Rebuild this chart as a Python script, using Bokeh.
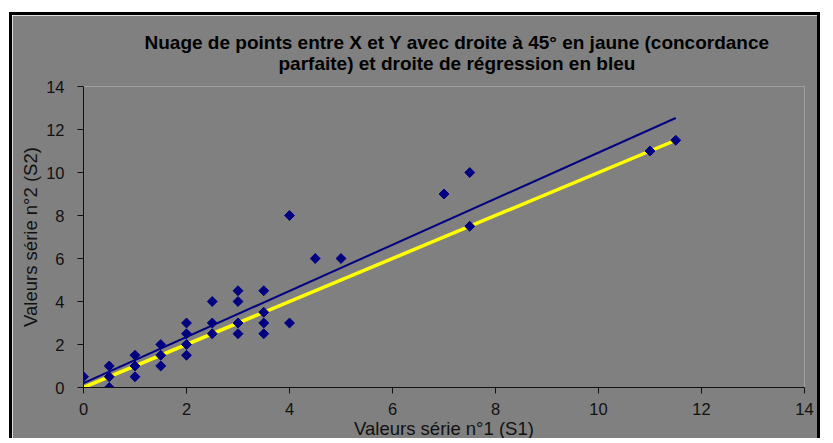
import numpy as np
from bokeh.plotting import figure
from bokeh.models import Range1d, Title, FixedTicker
from bokeh.embed import file_html
from bokeh.resources import INLINE

# Data
s1 = [0, 0.5, 0.5, 0.5, 1, 1, 1, 1.5, 1.5, 1.5, 2, 2, 2, 2, 2.5, 2.5, 2.5,
      3, 3, 3, 3, 3.5, 3.5, 3.5, 3.5, 4, 4, 4.5, 5, 7, 7.5, 7.5, 11, 11.5]
s2 = [0.5, 1, 0.5, 0, 1.5, 1, 0.5, 2, 1.5, 1, 3, 2.5, 2, 1.5, 4, 3, 2.5,
      4.5, 4, 3, 2.5, 4.5, 3.5, 3, 2.5, 8, 3, 6, 6, 9, 10, 7.5, 11, 11.5]
diag_x = [0, 11.5]
axis_ticks = [0, 2, 4, 6, 8, 10, 12, 14]
title_lines = ["Nuage de points entre X et Y avec droite à 45° en jaune (concordance",
               "parfaite) et droite de régression en bleu"]

slope, intercept = np.polyfit(s1, s2, 1)
reg_x = diag_x
reg_y = [intercept + slope * v for v in reg_x]

GRAY = "#808080"
NAVY = "#000080"
TXT = "#111111"
FONT = "Liberation Sans"

p = figure(width=811, height=426, output_backend="svg", toolbar_location=None,
           x_range=Range1d(0, 14), y_range=Range1d(0, 14),
           min_border_left=71, min_border_right=19, min_border_top=71, min_border_bottom=54)
p.styles = {"border-top": "3px solid black", "border-left": "3px solid black",
            "border-right": "3px solid black", "margin-left": "9px", "margin-top": "12px"}
p.background_fill_color = GRAY
p.border_fill_color = GRAY
p.outline_line_color = None
p.grid.visible = False

for ax in (p.xaxis[0], p.yaxis[0]):
    ax.ticker = FixedTicker(ticks=axis_ticks)
    ax.minor_tick_line_color = None
    ax.major_tick_in = 0
    ax.major_tick_out = 6
    ax.axis_line_color = "#111111"
    ax.major_tick_line_color = "#111111"
    ax.major_label_text_font = FONT
    ax.major_label_text_font_size = "16.5px"
    ax.major_label_text_color = TXT
    ax.axis_label_text_font = FONT
    ax.axis_label_text_font_size = "18.5px"
    ax.axis_label_text_font_style = "normal"
    ax.axis_label_text_color = TXT

p.xaxis.axis_label = "Valeurs série n°1 (S1)"
p.yaxis.axis_label = "Valeurs série n°2 (S2)"
p.xaxis.major_label_standoff = 9
p.yaxis.major_label_standoff = 13
p.xaxis.axis_label_standoff = 0
p.yaxis.axis_label_standoff = 2

p.line(diag_x, diag_x, line_color="#FFFF00", line_width=3.5)
p.line(reg_x, reg_y, line_color=NAVY, line_width=2)
p.scatter(s1, s2, marker="square", angle=np.pi / 4, size=7,
          fill_color=NAVY, line_color=NAVY)

# second line first (closest to the frame), then first line above it
p.add_layout(Title(text=title_lines[1], align="left", offset=195, standoff=25,
                   text_font=FONT, text_font_size="19px", text_font_style="bold",
                   text_color="#000000"), "above")
p.add_layout(Title(text=title_lines[0], align="left", offset=61, standoff=-28,
                   text_font=FONT, text_font_size="19px", text_font_style="bold",
                   text_color="#000000"), "above")

open("out.html", "w").write(file_html(p, INLINE))
